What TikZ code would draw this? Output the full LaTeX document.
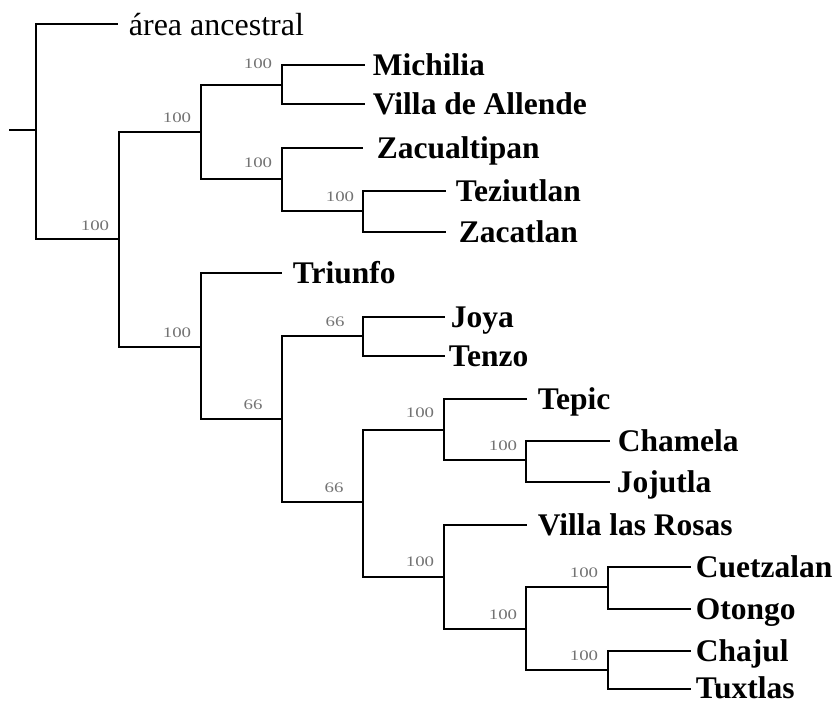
\documentclass[tikz,border=0pt]{standalone}
\usepackage{graphicx}
\usepackage{fontspec}
\setmainfont{Liberation Serif}
\newcommand{\bsv}[1]{\scalebox{1.3}[1]{#1}}
\begin{document}
\begin{tikzpicture}[x=1pt,y=-1pt,line width=1.8pt,line join=miter,
  leaf/.style={anchor=base west,inner sep=0pt,text depth=0pt,font=\fontsize{31.5}{34}\selectfont\bfseries},
  anc/.style={anchor=base west,inner sep=0pt,font=\fontsize{32}{34}\selectfont},
  boot/.style={inner sep=0pt,text=black!55,font=\fontsize{14.5}{15}\selectfont}]
\useasboundingbox (0,0) rectangle (835,704);
% internal nodes
\coordinate (S) at (9,130);
\coordinate (R) at (36,130);
\coordinate (N1) at (119,239);
\coordinate (N2) at (201,132);
\coordinate (N3) at (282,85);
\coordinate (N4) at (282,179);
\coordinate (N5) at (363,211);
\coordinate (N6) at (201,347);
\coordinate (N7) at (282,419);
\coordinate (N8) at (363,336);
\coordinate (N9) at (363,502);
\coordinate (N10) at (444,430);
\coordinate (N11) at (526,460);
\coordinate (N12) at (444,577);
\coordinate (N13) at (526,629);
\coordinate (N14) at (608,587);
\coordinate (N15) at (608,670);
% leaf line ends
\coordinate (eanc) at (118,24);
\coordinate (emich) at (365,65);
\coordinate (eva) at (365,104);
\coordinate (ezacu) at (363,148);
\coordinate (etez) at (446,191);
\coordinate (ezaca) at (446,232);
\coordinate (etri) at (282,273);
\coordinate (ejoya) at (445,317);
\coordinate (etenzo) at (445,356);
\coordinate (etepic) at (527,399);
\coordinate (echam) at (610,441);
\coordinate (ejoj) at (610,482);
\coordinate (evlr) at (527,525);
\coordinate (ecuet) at (691,567);
\coordinate (eoto) at (691,609);
\coordinate (echaj) at (691,651);
\coordinate (etux) at (691,689);
% leaf labels
\node[anc] (tanc) at (128,35) {área ancestral};
\node[leaf] (tmich) at (372,75) {Michilia};
\node[leaf] (tva) at (372,114) {Villa de Allende};
\node[leaf] (tzacu) at (376,158) {Zacualtipan};
\node[leaf] (ttez) at (455,201) {Teziutlan};
\node[leaf] (tzaca) at (458,242) {Zacatlan};
\node[leaf] (ttri) at (292,283) {Triunfo};
\node[leaf] (tjoya) at (450,327) {Joya};
\node[leaf] (ttenzo) at (448,366) {Tenzo};
\node[leaf] (ttepic) at (537,409) {Tepic};
\node[leaf] (tcham) at (617,451) {Chamela};
\node[leaf] (tjoj) at (616,492) {Jojutla};
\node[leaf] (tvlr) at (537,535) {Villa las Rosas};
\node[leaf] (tcuet) at (695,577) {Cuetzalan};
\node[leaf] (toto) at (695,619) {Otongo};
\node[leaf] (tchaj) at (695,661) {Chajul};
\node[leaf] (ttux) at (695,698) {Tuxtlas};
% branches
\draw (S) -- (R);
\draw (R) |- (eanc);
\draw (R) |- (N1);
\draw (N1) |- (N2);
\draw (N1) |- (N6);
\draw (N2) |- (N3);
\draw (N2) |- (N4);
\draw (N3) |- (emich);
\draw (N3) |- (eva);
\draw (N4) |- (ezacu);
\draw (N4) |- (N5);
\draw (N5) |- (etez);
\draw (N5) |- (ezaca);
\draw (N6) |- (etri);
\draw (N6) |- (N7);
\draw (N7) |- (N8);
\draw (N7) |- (N9);
\draw (N8) |- (ejoya);
\draw (N8) |- (etenzo);
\draw (N9) |- (N10);
\draw (N9) |- (N12);
\draw (N10) |- (etepic);
\draw (N10) |- (N11);
\draw (N11) |- (echam);
\draw (N11) |- (ejoj);
\draw (N12) |- (evlr);
\draw (N12) |- (N13);
\draw (N13) |- (N14);
\draw (N13) |- (N15);
\draw (N14) |- (ecuet);
\draw (N14) |- (eoto);
\draw (N15) |- (echaj);
\draw (N15) |- (etux);
% support values
\node[boot] (b1) at (95,226) {\bsv{100}};
\node[boot] (b2) at (177,118) {\bsv{100}};
\node[boot] (b3) at (258,64) {\bsv{100}};
\node[boot] (b4) at (258,163) {\bsv{100}};
\node[boot] (b5) at (340,197) {\bsv{100}};
\node[boot] (b6) at (177,333) {\bsv{100}};
\node[boot] (b7) at (335,322) {\bsv{66}};
\node[boot] (b8) at (253,405) {\bsv{66}};
\node[boot] (b9) at (334,488) {\bsv{66}};
\node[boot] (b10) at (420,413) {\bsv{100}};
\node[boot] (b11) at (503,446) {\bsv{100}};
\node[boot] (b12) at (420,562) {\bsv{100}};
\node[boot] (b13) at (503,615) {\bsv{100}};
\node[boot] (b14) at (584,573) {\bsv{100}};
\node[boot] (b15) at (584,656) {\bsv{100}};
\end{tikzpicture}
\end{document}
